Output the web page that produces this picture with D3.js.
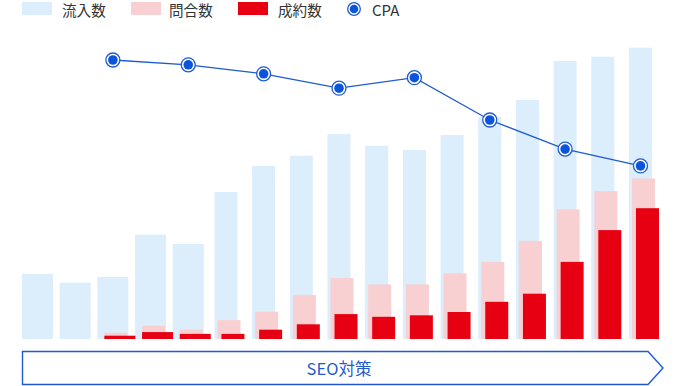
<!DOCTYPE html>
<html>
<head>
  <meta charset="utf-8">
  <script src="https://d3js.org/d3.v7.min.js"></script>
  <style>
    body { margin: 0; background: #fff; }
    text { font-family: "Noto Sans CJK JP", "Noto Sans", sans-serif; }
  </style>
</head>
<body>
  <svg width="686" height="386"></svg>

  <script>
    // データ
    var periods = ["1","2","3","4","5","6","7","8","9","10","11","12","13","14","15","16","17"];
    var visits    = [21.7, 18.8, 20.7, 34.8, 31.7, 49.0, 57.7, 61.1, 68.3, 64.4, 63.0, 68.0, 74.0, 79.7, 92.7, 94.1, 97.1];
    var inquiries = [0, 0, 2.1, 4.4, 3.1, 6.3, 9.1, 14.7, 20.3, 18.2, 18.2, 21.9, 25.7, 32.7, 43.2, 49.3, 53.5];
    var contracts = [0, 0, 1.1, 2.3, 1.7, 1.7, 3.1, 4.9, 8.3, 7.4, 7.9, 9.0, 12.4, 15.1, 25.7, 36.3, 43.6];
    var cpaPeriods = ["3","5","7","9","11","13","15","17"];
    var cpa = [93.0, 91.4, 88.4, 83.6, 87.1, 73.0, 63.3, 57.7];
    var legendLabels = ["流入数", "問合数", "成約数", "CPA"];
    var phaseLabel = "SEO対策";

    var colors = { visit: "#dcedfc", inquiry: "#f9d0d2", contract: "#e60012", cpa: "#0a55dc", line: "#1f5ad0" };

    var svg = d3.select("svg");

    var x = d3.scalePoint()
      .domain(periods)
      .range([37.5, 640.5]);

    var y = d3.scaleLinear()
      .domain([0, 100])
      .range([339, 39]);

    var yCpa = d3.scaleLinear()
      .domain([0, 100])
      .range([339, 39]);

    function barW(i) { return i < 5 ? 31 : 23; }

    // 流入数
    svg.selectAll(".visit")
      .data(visits)
      .enter()
      .append("rect")
      .attr("class", "visit")
      .attr("x", function(d, i) { return x(periods[i]) - barW(i) / 2; })
      .attr("y", function(d) { return y(d); })
      .attr("width", function(d, i) { return barW(i); })
      .attr("height", function(d) { return y(0) - y(d); })
      .attr("fill", colors.visit);

    // 問合数
    svg.selectAll(".inquiry")
      .data(inquiries)
      .enter()
      .append("rect")
      .attr("class", "inquiry")
      .attr("x", function(d, i) { return x(periods[i]) - 8.5; })
      .attr("y", function(d) { return y(d); })
      .attr("width", 23)
      .attr("height", function(d) { return y(0) - y(d); })
      .attr("fill", colors.inquiry);

    // 成約数
    svg.selectAll(".contract")
      .data(contracts)
      .enter()
      .append("rect")
      .attr("class", "contract")
      .attr("x", function(d, i) { return x(periods[i]) - barW(i) / 2 + 7; })
      .attr("y", function(d) { return y(d); })
      .attr("width", function(d, i) { return barW(i); })
      .attr("height", function(d) { return y(0) - y(d); })
      .attr("fill", colors.contract);

    // CPA
    var line = d3.line()
      .x(function(d, i) { return x(cpaPeriods[i]); })
      .y(function(d) { return yCpa(d); });

    svg.append("path")
      .datum(cpa)
      .attr("d", line)
      .attr("fill", "none")
      .attr("stroke", colors.line)
      .attr("stroke-width", 1.3);

    var pts = svg.selectAll(".pt")
      .data(cpa)
      .enter()
      .append("g")
      .attr("class", "pt")
      .attr("transform", function(d, i) { return "translate(" + x(cpaPeriods[i]) + "," + yCpa(d) + ")"; });
    pts.append("circle").attr("r", 7).attr("fill", "#fff").attr("stroke", colors.line).attr("stroke-width", 1.3);
    pts.append("circle").attr("r", 4.8).attr("fill", colors.cpa);

    // 凡例
    var legend = svg.append("g");
    var swatches = [
      { x: 22, color: colors.visit, tx: 62 },
      { x: 131, color: colors.inquiry, tx: 169 },
      { x: 238, color: colors.contract, tx: 278 }
    ];
    swatches.forEach(function(s, i) {
      legend.append("rect")
        .attr("x", s.x).attr("y", 2)
        .attr("width", 30).attr("height", 13)
        .attr("fill", s.color);
      legend.append("text")
        .attr("x", s.tx).attr("y", 9)
        .attr("dominant-baseline", "central")
        .attr("font-size", 14.6)
        .attr("fill", "#333")
        .text(legendLabels[i]);
    });
    legend.append("circle").attr("cx", 354).attr("cy", 9).attr("r", 6.3)
      .attr("fill", "#fff").attr("stroke", colors.line).attr("stroke-width", 1.3);
    legend.append("circle").attr("cx", 354).attr("cy", 9).attr("r", 4.3)
      .attr("fill", colors.cpa);
    legend.append("text")
      .attr("x", 372).attr("y", 9)
      .attr("dominant-baseline", "central")
      .attr("font-size", 15)
      .attr("fill", "#333")
      .text(legendLabels[3]);

    // 施策の矢印
    svg.append("path")
      .attr("d", "M22.5,351.5 L648,351.5 L663,368 L648,384.5 L22.5,384.5 Z")
      .attr("fill", "#fff")
      .attr("stroke", colors.line)
      .attr("stroke-width", 1.4);
    svg.append("text")
      .attr("x", 339).attr("y", 368)
      .attr("text-anchor", "middle")
      .attr("dominant-baseline", "central")
      .attr("font-size", 16.5)
      .attr("fill", colors.line)
      .text(phaseLabel);
  </script>
</body>
</html>
